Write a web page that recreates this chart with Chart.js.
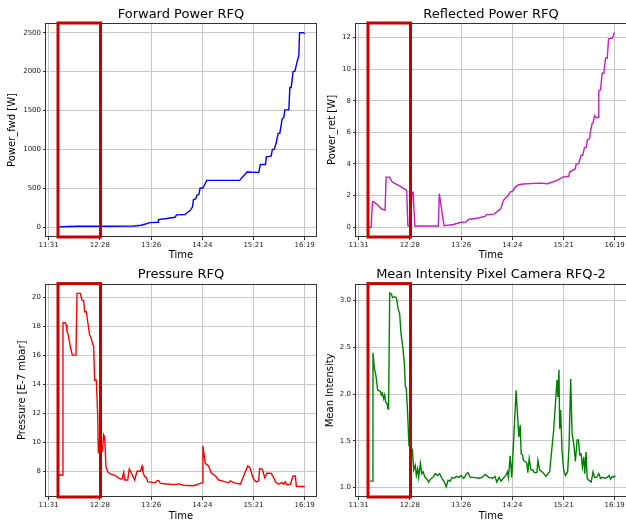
<!DOCTYPE html>
<html>
<head>
<meta charset="utf-8">
<title>RFQ conditioning</title>
<script src="https://cdn.jsdelivr.net/npm/chart.js"></script>
<style>
  html, body { margin: 0; padding: 0; background: #fff; overflow: hidden; width: 626px; height: 524px; }
  canvas.panel { position: absolute; }
</style>
</head>
<body>
<canvas id="fwd-chart" class="panel" width="320" height="262" style="left:0;top:0"></canvas>
<canvas id="ret-chart" class="panel" width="320" height="262" style="left:310px;top:0"></canvas>
<canvas id="pres-chart" class="panel" width="320" height="262" style="left:0;top:262px"></canvas>
<canvas id="cam-chart" class="panel" width="320" height="262" style="left:310px;top:262px"></canvas>
<script>

// time is in minutes after midnight
const timeTicks = [691, 748.6, 806.2, 863.8, 921.4, 979];
const timeLabels = ['11:31', '12:28', '13:26', '14:24', '15:21', '16:19'];
const xMin = 688;
const xMax = 991.7;

// window marked with the red box
const boxStart = 701.5;
const boxEnd = 749.3;

//- Forward power -
const fwdTime = [702, 712, 725, 760, 787, 795, 800, 805, 814, 814.5, 823.7, 833, 835, 844.4, 847.1, 850.1, 852.7,
  853.8, 856.5, 857.6, 859.9, 861.4, 864.4, 868.9, 905.8, 914.1, 927.3, 929.1, 934.8, 935.9, 941.2, 942.7, 944.9,
  947.2, 949.1, 951, 953.6, 955.5, 956.6, 961.1, 962.3, 963.8, 966, 967.9, 970.6, 972.4, 973.2, 977.3, 979.2];
const fwdPower = [5, 9, 13, 14, 16, 26, 42, 60, 65, 99, 112, 129, 159, 164, 190, 215, 259,
  353, 366, 409, 422, 504, 504, 603, 603, 711, 703, 806, 806, 905, 914, 1000, 1005,
  1099, 1207, 1207, 1392, 1409, 1508, 1508, 1797, 1797, 2004, 2004, 2133, 2207, 2500, 2500, 2487];
const fwdTicks = [0, 500, 1000, 1500, 2000, 2500];

//- Reflected power -
const retTime = [702.2, 705, 706.6, 709, 713.3, 717, 720.7, 721.9, 725.6, 728.2, 730.8, 737.5, 744.2, 745, 746.4,
  749.4, 750.9, 752.3, 754.2, 780.6, 781.7, 787, 797.5, 805, 812, 814.3, 823.7, 833.1, 835, 843.3, 847.1, 850.8,
  853.8, 856.8, 858.7, 861.4, 864.4, 867, 870.8, 876.4, 887.7, 895.2, 903.5, 914.1, 920.6, 927.3, 928.4, 934.8,
  935.5, 938.5, 941.2, 943, 944.9, 947.2, 948.3, 950.6, 951.7, 953.6, 954.7, 956.2, 957.7, 960.4, 961.1, 963,
  964.9, 966.8, 968.7, 970.6, 972.1, 976.2, 978.8];
const retPower = [0, 0, 1.62, 1.57, 1.36, 1.15, 1.09, 3.17, 3.17, 2.91, 2.79, 2.6, 2.36, 2.32, 0.09,
  0.09, 2.21, 2.21, 0.08, 0.08, 2.12, 0.1, 0.17, 0.3, 0.34, 0.49, 0.57, 0.68, 0.8, 0.83, 1.0, 1.16,
  1.69, 1.9, 1.97, 2.22, 2.29, 2.54, 2.69, 2.73, 2.77, 2.79, 2.75, 2.96, 3.17, 3.22, 3.49, 3.7,
  3.98, 4.02, 4.55, 4.55, 5.02, 5.08, 5.54, 5.59, 6.03, 6.56, 6.6, 7.05, 6.94, 6.94, 8.63, 8.68,
  9.74, 9.74, 10.69, 10.69, 11.92, 11.96, 12.32];
const retTicks = [0, 2, 4, 6, 8, 10, 12];

//- Pressure -
const presTime = [701.5, 706, 707.1, 709.7, 710.9, 711.6, 712.7, 715.4, 717.6, 721.7, 722.9, 726.6, 728.5, 730.4,
  731.5, 733.3, 735.2, 737.1, 738.6, 740.9, 741.6, 742.7, 744.6, 746.1, 746.9, 748.4, 749.9, 751.4, 752.9, 754,
  755.5, 757.7, 760.4, 766, 771.6, 773.5, 775.4, 776.5, 779.9, 781.7, 784, 787.7, 790.4, 794.1, 796, 797.1, 799,
  800.9, 802.4, 809.1, 811, 812.9, 814.8, 816.6, 824, 831.6, 837.2, 842.8, 854.1, 861.6, 863.5, 864.5, 867.2,
  870.9, 873.6, 878.5, 882.3, 886, 889.8, 893.5, 895.4, 899.1, 906.6, 914.9, 917.2, 919.7, 921.6, 924.6, 927.2,
  928.3, 931.3, 934, 936.6, 941.1, 944.1, 946, 949.7, 953.5, 955.4, 957.2, 959.1, 962.9, 965.8, 968.5, 969.6, 979];
const presValue = [7.77, 7.77, 18.25, 18.25, 18.09, 17.63, 17.52, 16.6, 16.02, 16.02, 20.28, 20.28, 19.82, 19.75,
  19.01, 19.01, 18.2, 17.4, 17.24, 16.71, 16.6, 14.29, 14.29, 11.99, 9.27, 10.14, 9.4, 9.4, 10.53, 10.37,
  8.3, 7.95, 7.84, 7.72, 7.49, 7.49, 7.95, 7.42, 7.42, 8.18, 7.9, 7.42, 8.02, 8.02, 8.37, 7.95, 7.65,
  7.6, 7.31, 7.24, 7.24, 7.38, 7.38, 7.19, 7.15, 7.1, 7.15, 7.06, 7.03, 7.19, 7.22, 9.75, 8.57,
  8.39, 7.93, 7.7, 7.42, 7.36, 7.29, 7.24, 7.36, 7.24, 7.13, 8.39, 8.28, 7.82, 7.47, 7.29, 7.36,
  8.21, 8.16, 7.59, 7.89, 7.89, 7.59, 7.29, 7.13, 7.24, 7.13, 7.29, 7.08, 7.13, 7.7, 7.7, 6.97, 6.97];
const presTicks = [8, 10, 12, 14, 16, 18, 20];

//- Camera mean intensity -
const camTime = [703.4, 706, 707.1, 708.6, 710.5, 712.4, 715.4, 716.5, 717.6, 719.1, 720.2, 721.4, 722.9, 724,
  724.7, 725.9, 727.7, 729.2, 731.5, 733.4, 735.2, 737.1, 738.6, 740.5, 742.4, 743.5, 744.6, 746.1, 747.6, 749.1,
  751.4, 752.9, 754.7, 755.9, 757.4, 758.5, 760.4, 761.9, 763.4, 765.6, 767.9, 769.7, 771.6, 774.6, 777.2, 779.9,
  782.1, 784.7, 787.4, 789.6, 791.5, 794.1, 796, 798.6, 800.9, 803.5, 806.1, 809.1, 811.7, 814, 816.6, 820.4,
  826, 829.7, 833.5, 837.2, 841.8, 844.4, 846.3, 848.9, 851.2, 853.8, 856.5, 858.4, 859.5, 861.4, 863.2, 865.9,
  868.1, 869.6, 871.2, 872.7, 873.8, 875.3, 876.4, 878.3, 880.2, 881.3, 882.8, 884.7, 887, 888.5, 891.5, 892.6,
  894.5, 898.3, 901.6, 905.8, 910.3, 914.1, 915.2, 916.3, 917.1, 918.2, 919.7, 921.6, 923.5, 926.1, 927.6, 929.5,
  931, 932.9, 934.8, 936.7, 938.2, 939.7, 941.2, 942.7, 944.2, 945.3, 946.8, 948, 949.8, 952.5, 954.7, 956.2,
  958.5, 961.1, 963, 966, 967.9, 970.6, 972.8, 974.3, 976.2, 978.1, 979.6];
const camValue = [1.07, 1.07, 2.44, 2.28, 2.19, 2.04, 2.03, 1.99, 2.01, 1.95, 1.99, 1.91, 1.9, 1.84,
  1.88, 3.08, 3.07, 3.03, 3.04, 3.03, 2.92, 2.86, 2.65, 2.51, 2.33, 2.08, 2.06, 1.79, 1.45, 1.43,
  1.41, 1.19, 1.24, 1.13, 1.2, 1.11, 1.26, 1.15, 1.17, 1.11, 1.09, 1.06, 1.09, 1.11, 1.15, 1.13,
  1.15, 1.1, 1.06, 1.01, 1.08, 1.07, 1.11, 1.1, 1.12, 1.11, 1.13, 1.1, 1.14, 1.16, 1.11, 1.11,
  1.1, 1.11, 1.14, 1.11, 1.1, 1.12, 1.06, 1.11, 1.07, 1.1, 1.13, 1.17, 1.11, 1.34, 1.11, 1.61,
  2.04, 1.79, 1.54, 1.67, 1.36, 1.35, 1.29, 1.28, 1.26, 1.16, 1.31, 1.19, 1.19, 1.16, 1.16, 1.29,
  1.19, 1.16, 1.12, 1.17, 1.61, 2.15, 1.97, 2.26, 1.63, 1.83, 1.4, 1.19, 1.13, 1.17, 1.44, 2.16,
  1.58, 1.47, 1.28, 1.51, 1.51, 1.35, 1.36, 1.22, 1.33, 1.15, 1.38, 1.1, 1.08, 1.06, 1.17, 1.11,
  1.11, 1.15, 1.1, 1.11, 1.1, 1.11, 1.13, 1.09, 1.12, 1.11, 1.13];
const camTicks = [1.0, 1.5, 2.0, 2.5, 3.0];

const FONT = "'DejaVu Sans', sans-serif";

// axes frame + red highlight box
const framePlugin = {
  id: 'frame',
  afterDatasetsDraw(chart) {
    const {ctx, chartArea: a, scales: {x}} = chart;
    ctx.save();
    ctx.strokeStyle = '#333';
    ctx.lineWidth = 1;
    ctx.strokeRect(Math.round(a.left) - 0.5, Math.round(a.top) + 0.5,
      Math.round(a.right - a.left) + 1, Math.round(a.bottom - a.top) - 1);

    const x1 = x.getPixelForValue(boxStart);
    const x2 = x.getPixelForValue(boxEnd);
    ctx.strokeStyle = '#c80000';
    ctx.lineWidth = 3;
    ctx.strokeRect(x1, a.top, x2 - x1, a.bottom - a.top);
    ctx.restore();
  }
};

function buildPanel(canvasId, cfg)
{
  return new Chart(document.getElementById(canvasId), {
    type: 'line',
    data: {
      datasets: [{
        data: cfg.time.map((t, i) => ({x: t, y: cfg.values[i]})),
        borderColor: cfg.color,
        borderWidth: 1.4,
        pointRadius: 0,
        tension: 0,
      }],
    },
    options: {
      responsive: false,
      animation: false,
      devicePixelRatio: 1,
      layout: {padding: {right: 4}},
      plugins: {
        legend: {display: false},
        tooltip: {enabled: false},
        title: {
          display: true,
          text: cfg.title,
          fullSize: false,
          color: '#000',
          font: {family: FONT, size: 13, weight: 'normal'},
          padding: cfg.titlePad,
        },
      },
      scales: {
        x: {
          type: 'linear',
          min: xMin,
          max: xMax,
          afterBuildTicks: (s) => { s.ticks = timeTicks.map(v => ({value: v})); },
          afterFit: (s) => { s.height = cfg.xAxisHeight; },
          ticks: {
            autoSkip: false,
            maxRotation: 0,
            padding: 1,
            color: '#222',
            font: {family: FONT, size: 7},
            callback: (v, i) => timeLabels[i],
          },
          grid: {color: '#c8c8c8', tickColor: '#333', tickLength: 3},
          border: {display: false},
          title: {
            display: true,
            text: 'Time',
            color: '#000',
            font: {family: FONT, size: 10},
            padding: {top: 0, bottom: cfg.xTitlePad},
          },
        },
        y: {
          min: cfg.yMin,
          max: cfg.yMax,
          afterBuildTicks: (s) => { s.ticks = cfg.ticks.map(v => ({value: v})); },
          afterFit: (s) => { s.width = 46; },
          ticks: {
            padding: 2,
            color: '#222',
            font: {family: FONT, size: 7},
            callback: (v) => v.toFixed(cfg.decimals),
          },
          grid: {color: '#c8c8c8', tickColor: '#333', tickLength: 3},
          border: {display: false},
          title: {
            display: true,
            text: cfg.label,
            color: '#000',
            font: {family: FONT, size: 10},
            padding: {top: cfg.yTitlePad, bottom: 0},
          },
        },
      },
    },
    plugins: [framePlugin],
  });
}

const topTitlePad = {top: 6.4, bottom: 1};
const bottomTitlePad = {top: 4.5, bottom: 1.5};

buildPanel('fwd-chart', {
  title: 'Forward Power RFQ', label: 'Power_fwd [W]', color: '#0000ff',
  time: fwdTime, values: fwdPower, ticks: fwdTicks, decimals: 0,
  yMin: -125, yMax: 2625, titlePad: topTitlePad, xAxisHeight: 25, xTitlePad: 1, yTitlePad: 6.5,
});

buildPanel('ret-chart', {
  title: 'Reflected Power RFQ', label: 'Power_ret [W]', color: '#c41ec4',
  time: retTime, values: retPower, ticks: retTicks, decimals: 0,
  yMin: -0.62, yMax: 12.92, titlePad: topTitlePad, xAxisHeight: 25, xTitlePad: 1, yTitlePad: 16.2,
});

buildPanel('pres-chart', {
  title: 'Pressure RFQ', label: 'Pressure [E-7 mbar]', color: '#ff0000',
  time: presTime, values: presValue, ticks: presTicks, decimals: 0,
  yMin: 6.25, yMax: 20.95, titlePad: bottomTitlePad, xAxisHeight: 27, xTitlePad: 2, yTitlePad: 16.3,
});

buildPanel('cam-chart', {
  title: 'Mean Intensity Pixel Camera RFQ-2', label: 'Mean Intensity', color: '#008000',
  time: camTime, values: camValue, ticks: camTicks, decimals: 1,
  yMin: 0.9, yMax: 3.18, titlePad: bottomTitlePad, xAxisHeight: 27, xTitlePad: 2, yTitlePad: 14,
});

</script>
</body>
</html>
